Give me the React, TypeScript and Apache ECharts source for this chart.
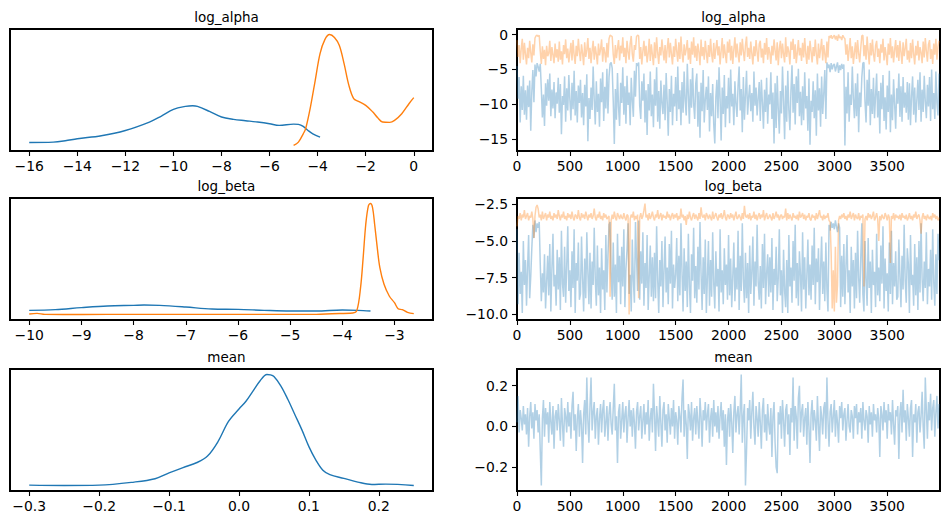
import { useEffect, useRef } from "react";
import * as echarts from "echarts";

const BLUE = "#1f77b4";
const ORANGE = "#ff7f0e";
const FONT = "DejaVu Sans";

// ---- posterior density curves: [value, density] ----
const logAlphaKde0 = [
  [-16, 0.036], [-15, 0.039], [-14.5, 0.051], [-14, 0.069], [-13, 0.096], [-12, 0.143],
  [-11, 0.218], [-10.5, 0.272], [-10, 0.331], [-9.5, 0.358], [-9.2, 0.364], [-9, 0.358],
  [-8.5, 0.313], [-8, 0.263], [-7.5, 0.242], [-7, 0.23], [-6.5, 0.218], [-6, 0.203],
  [-5.6, 0.188], [-5.0, 0.2], [-4.8, 0.197], [-4.6, 0.179], [-4.4, 0.143], [-4.2, 0.113],
  [-3.9, 0.084],
];
const logAlphaKde1 = [
  [-5, 0.009], [-4.8, 0.039], [-4.6, 0.113], [-4.5, 0.158], [-4.3, 0.352], [-4.1, 0.591],
  [-3.9, 0.83], [-3.7, 0.955], [-3.5, 1.0], [-3.3, 0.973], [-3.1, 0.904], [-2.9, 0.74],
  [-2.7, 0.546], [-2.5, 0.427], [-2.3, 0.403], [-2.0, 0.367], [-1.7, 0.307], [-1.5, 0.257],
  [-1.3, 0.218], [-1.0, 0.215], [-0.8, 0.233], [-0.5, 0.293], [-0.2, 0.382], [0, 0.436],
];
const logBetaKde0 = [
  [-10, 0.037], [-9.5, 0.043], [-9, 0.061], [-8.5, 0.076], [-8, 0.082], [-7.8, 0.085],
  [-7.5, 0.082], [-7, 0.067], [-6.5, 0.049], [-6, 0.046], [-5.5, 0.037], [-5, 0.031],
  [-4.5, 0.031], [-4, 0.04], [-3.7, 0.037], [-3.46, 0.031],
];
const logBetaKde1 = [
  [-10, 0.004], [-9.85, 0.01], [-9.7, 0.001], [-9, 0.0], [-8, 0.001], [-7, 0.001],
  [-6, 0.001], [-5, 0.001], [-4.5, 0.001], [-4.2, 0.007], [-3.8, 0.013], [-3.72, 0.037],
  [-3.65, 0.241], [-3.6, 0.511], [-3.55, 0.811], [-3.5, 0.976], [-3.46, 0.997], [-3.42, 0.961],
  [-3.38, 0.811], [-3.33, 0.601], [-3.28, 0.421], [-3.2, 0.271], [-3.1, 0.166], [-3.0, 0.106],
  [-2.93, 0.052], [-2.85, 0.043], [-2.75, 0.019], [-2.63, 0.007],
];
const meanKde0 = [
  [-0.3, 0.013], [-0.25, 0.01], [-0.2, 0.013], [-0.15, 0.04], [-0.12, 0.07], [-0.1, 0.121],
  [-0.08, 0.169], [-0.06, 0.214], [-0.045, 0.271], [-0.03, 0.4], [-0.015, 0.579], [0.0, 0.69],
  [0.01, 0.759], [0.02, 0.849], [0.03, 0.939], [0.04, 0.996], [0.045, 0.993], [0.05, 0.978],
  [0.06, 0.894], [0.07, 0.774], [0.08, 0.639], [0.09, 0.504], [0.1, 0.355], [0.11, 0.235],
  [0.12, 0.145], [0.13, 0.106], [0.15, 0.073], [0.17, 0.04], [0.19, 0.019], [0.21, 0.022],
  [0.25, 0.01],
];

// ---- sampled draws, every 10th iteration (one row = 100 iterations) ----
const THIN = 10;
const logAlphaTrace0 = [
  -4.5, -9.2, -6.1, -12.6, -7.4, -10.8, -5.9, -11.5, -8.0, -12.2,
  -7.3, -10.4, -6.6, -13.8, -8.2, -5.1, -9.7, -4.3, -6.0, -4.1,
  -4.6, -5.3, -4.2, -7.8, -11.9, -8.6, -13.1, -7.0, -10.2, -6.4,
  -9.5, -5.6, -11.7, -7.9, -10.6, -6.8, -12.0, -8.3, -9.9, -6.2,
  -11.2, -7.1, -14.3, -8.8, -10.1, -6.0, -12.5, -7.7, -10.9, -5.8,
  -9.4, -12.3, -6.9, -10.7, -5.2, -11.6, -8.1, -12.6, -7.3, -9.8,
  -6.5, -11.9, -8.4, -13.0, -7.2, -10.3, -5.7, -15.3, -9.1, -12.1,
  -7.6, -10.8, -4.6, -9.3, -12.9, -6.7, -11.1, -8.5, -13.2, -6.3,
  -9.7, -5.4, -12.4, -7.5, -10.6, -4.9, -11.3, -6.1, -4.2, -4.0,
  -4.8, -9.6, -15.7, -7.8, -12.2, -5.5, -10.4, -13.1, -6.9, -9.8,
  -4.7, -11.5, -7.4, -12.8, -5.9, -10.1, -8.3, -13.0, -6.2, -9.4,
  -11.8, -5.2, -8.9, -4.1, -4.5, -4.0, -10.2, -12.1, -6.7, -9.5,
  -5.6, -12.6, -8.0, -14.4, -7.1, -10.9, -5.3, -11.7, -8.6, -13.3,
  -6.4, -10.2, -4.7, -12.5, -8.1, -13.5, -6.6, -9.8, -11.4, -7.2,
  -12.3, -5.5, -9.6, -14.5, -7.8, -11.1, -5.9, -13.0, -8.5, -10.3,
  -6.1, -12.4, -4.6, -10.7, -8.0, -13.0, -6.8, -11.2, -5.3, -9.5,
  -11.6, -4.2, -8.7, -12.8, -6.4, -10.5, -4.8, -9.9, -12.1, -7.0,
  -5.6, -13.2, -8.2, -14.8, -6.9, -11.0, -5.1, -12.6, -9.3, -7.5,
  -10.8, -6.0, -13.9, -8.4, -11.7, -7.1, -12.9, -15.6, -9.0, -6.5,
  -12.0, -4.7, -9.2, -15.2, -7.6, -11.4, -5.8, -13.3, -8.8, -10.6,
  -6.2, -12.7, -5.0, -10.3, -8.5, -13.0, -6.7, -9.9, -11.8, -7.3,
  -4.6, -10.9, -7.8, -14.0, -6.1, -12.2, -8.7, -5.2, -11.5, -9.0,
  -7.2, -11.0, -8.4, -12.5, -5.3, -10.2, -7.6, -11.6, -9.1, -6.8,
  -12.4, -6.5, -9.7, -13.5, -7.9, -11.1, -6.2, -12.8, -8.6, -10.0,
  -5.4, -12.1, -8.3, -15.6, -7.0, -13.4, -5.9, -10.7, -14.2, -8.1,
  -11.3, -4.6, -9.5, -15.0, -7.3, -12.5, -5.2, -10.8, -13.7, -8.0,
  -4.4, -11.2, -7.1, -12.9, -6.0, -9.8, -4.9, -11.7, -8.2, -13.0,
  -7.4, -12.3, -5.4, -10.6, -8.8, -13.8, -6.3, -15.8, -9.5, -11.1,
  -6.7, -12.0, -8.0, -14.5, -5.6, -10.9, -7.7, -13.2, -6.0, -11.4,
  -8.5, -5.1, -12.1, -4.0, -4.8, -4.3, -5.4, -4.1, -5.0, -4.4,
  -4.2, -5.3, -4.6, -4.0, -5.5, -4.4, -5.1, -4.2, -4.9, -4.3,
  -15.9, -7.5, -11.3, -5.4, -12.5, -8.6, -10.1, -4.6, -9.2, -12.0,
  -7.0, -11.7, -5.6, -14.0, -8.3, -10.4, -6.1, -4.1, -4.0, -9.6,
  -12.6, -6.5, -10.2, -5.0, -13.0, -7.8, -11.4, -6.2, -12.0, -8.7,
  -5.6, -11.9, -8.1, -14.2, -6.9, -10.7, -5.8, -12.4, -9.0, -13.6,
  -7.3, -11.1, -5.2, -14.0, -8.6, -12.3, -6.4, -10.0, -13.5, -7.7,
  -9.9, -5.6, -11.8, -7.4, -12.5, -6.1, -10.5, -8.3, -11.2, -6.8,
  -12.2, -7.0, -13.0, -8.8, -6.0, -11.5, -7.6, -12.6, -9.4, -6.5,
  -10.8, -5.4, -12.5, -7.9, -11.1, -5.9, -9.6, -12.0, -7.2, -10.3,
  -6.1, -12.4, -5.0, -10.7, -8.4, -12.1, -5.3, -9.8, -11.6, -5.6,
];
const logAlphaTrace1 = [
  -0.8, -3.2, -1.5, -4.1, -2.0, -0.6, -3.6, -1.2, -2.8, -4.3,
  -1.9, -3.4, -0.9, -2.6, -4.0, -1.4, -3.0, -0.5, -0.2, -0.1,
  -0.3, -0.1, -2.4, -4.2, -1.7, -3.5, -2.2, -4.4, -1.6, -3.1,
  -2.7, -0.9, -3.8, -1.8, -2.9, -4.1, -1.3, -3.3, -2.1, -3.9,
  -1.0, -3.6, -2.4, -4.3, -1.5, -2.8, -0.7, -3.4, -2.0, -4.0,
  -2.6, -1.2, -3.7, -0.8, -2.9, -4.2, -1.6, -3.1, -0.6, -2.5,
  -3.8, -1.4, -2.7, -4.4, -1.1, -3.2, -2.2, -0.5, -3.5, -1.9,
  -4.1, -2.3, -0.9, -3.6, -1.7, -2.8, -4.3, -1.3, -3.0, -2.1,
  -0.7, -3.9, -1.8, -2.6, -4.0, -1.2, -3.3, -0.6, -0.1, -0.2,
  -0.3, -2.9, -4.2, -1.5, -3.4, -2.0, -0.8, -3.7, -1.6, -2.7,
  -0.4, -3.2, -1.9, -4.1, -0.9, -2.5, -3.6, -1.3, -0.2, -2.8,
  -3.9, -1.5, -2.2, -0.3, -0.1, -0.2, -3.5, -1.8, -4.3, -2.4,
  -0.9, -3.1, -1.6, -4.0, -2.7, -0.6, -3.8, -1.4, -2.9, -4.4,
  -1.1, -3.4, -0.4, -2.6, -4.2, -1.8, -3.0, -0.7, -2.3, -3.7,
  -1.5, -4.1, -2.0, -0.5, -3.3, -1.2, -2.8, -4.3, -1.7, -3.2,
  -0.6, -2.4, -3.9, -1.1, -3.5, -0.3, -2.7, -4.0, -1.4, -3.0,
  -2.1, -0.8, -3.6, -1.9, -4.2, -1.0, -2.9, -0.4, -3.3, -1.6,
  -3.8, -1.3, -2.5, -4.4, -0.7, -3.1, -1.8, -3.6, -0.9, -2.6,
  -4.1, -1.5, -3.2, -0.6, -2.8, -4.0, -1.2, -3.5, -2.0, -0.8,
  -3.0, -1.7, -4.3, -2.3, -0.5, -3.4, -1.4, -2.9, -4.1, -1.0,
  -2.6, -0.7, -3.7, -1.6, -4.2, -2.1, -0.4, -3.3, -1.3, -2.8,
  -4.0, -1.1, -3.0, -0.6, -2.4, -3.8, -1.5, -0.3, -3.2, -1.9,
  -3.5, -1.0, -2.7, -4.3, -1.7, -3.1, -0.8, -2.5, -3.9, -1.4,
  -0.9, -3.3, -2.0, -4.1, -1.2, -2.9, -0.5, -3.6, -1.8, -2.6,
  -4.2, -1.6, -3.0, -0.7, -2.3, -3.7, -1.1, -4.4, -2.0, -0.9,
  -3.4, -1.3, -2.8, -4.0, -0.4, -3.2, -1.7, -2.5, -4.3, -1.0,
  -2.2, -0.6, -3.5, -1.4, -4.1, -2.6, -0.8, -3.0, -1.9, -3.8,
  -1.2, -3.3, -0.5, -2.7, -4.2, -1.6, -3.6, -0.9, -2.4, -4.0,
  -1.8, -3.1, -0.7, -2.9, -4.3, -1.3, -3.4, -2.1, -0.6, -3.7,
  -1.5, -2.8, -4.1, -1.0, -3.3, -0.2, -0.5, -0.1, -0.6, -0.3,
  -0.1, -0.7, -0.2, -0.9, 0.0, -0.5, -0.3, -0.8, -0.1, -0.4,
  -0.6, -2.9, -1.4, -3.8, -2.2, -0.5, -3.4, -1.7, -4.2, -2.6,
  -1.1, -3.5, -0.8, -2.7, -4.0, -1.9, -0.2, -0.1, -3.1, -1.5,
  -3.6, -0.3, -2.4, -4.3, -1.2, -3.0, -0.7, -2.8, -3.9, -1.6,
  -0.9, -3.2, -2.0, -4.1, -1.4, -2.6, -0.6, -3.7, -1.8, -3.0,
  -4.4, -1.3, -2.9, -0.5, -3.4, -1.7, -4.0, -2.2, -0.8, -3.3,
  -1.5, -3.8, -0.9, -2.5, -4.2, -1.1, -3.1, -2.0, -0.6, -3.6,
  -2.3, -4.0, -1.2, -3.4, -0.7, -2.8, -4.3, -1.6, -3.0, -0.9,
  -3.7, -1.8, -2.6, -4.1, -1.0, -3.3, -0.5, -2.4, -3.9, -1.4,
  -0.8, -3.5, -2.1, -4.2, -1.3, -2.9, -0.6, -3.6, -1.7, -0.9,
];
const logBetaTrace0 = [
  -4.2, -9.3, -5.8, -8.6, -7.1, -9.9, -5.0, -8.0, -6.3, -9.4,
  -6.8, -4.6, -8.9, -7.4, -5.5, -3.9, -4.8, -3.6, -4.4, -3.8,
  -4.1, -3.7, -6.6, -9.1, -7.2, -8.5, -5.9, -9.6, -7.8, -6.0,
  -8.7, -5.2, -9.8, -6.9, -4.5, -8.1, -7.3, -9.4, -5.6, -8.3,
  -6.1, -9.7, -4.3, -7.9, -8.8, -5.4, -9.2, -6.7, -4.0, -8.4,
  -7.0, -9.5, -5.7, -8.2, -4.2, -9.9, -6.5, -7.7, -5.1, -9.0,
  -8.6, -4.7, -7.5, -9.8, -6.2, -8.9, -4.4, -7.1, -9.3, -5.8,
  -9.6, -6.4, -8.0, -4.1, -7.6, -9.4, -5.3, -8.7, -6.8, -9.9,
  -5.5, -8.3, -7.0, -9.7, -4.6, -8.5, -5.9, -3.9, -3.7, -7.2,
  -9.0, -5.1, -8.8, -6.6, -9.9, -4.5, -7.8, -6.0, -9.3, -5.4,
  -8.1, -4.2, -9.5, -6.9, -5.6, -3.8, -8.6, -7.3, -9.8, -4.9,
  -7.7, -9.2, -3.7, -6.2, -8.4, -3.6, -9.0, -5.7, -7.9, -4.4,
  -9.4, -6.5, -8.2, -4.6, -9.7, -7.4, -5.3, -8.8, -6.1, -9.1,
  -5.8, -8.9, -4.0, -7.6, -9.9, -6.3, -8.1, -5.0, -9.5, -7.0,
  -4.7, -8.5, -6.8, -9.3, -5.2, -7.9, -4.3, -9.6, -6.6, -8.2,
  -7.3, -4.8, -9.1, -6.0, -8.7, -3.8, -7.1, -9.8, -5.5, -8.4,
  -6.4, -9.5, -4.5, -8.0, -9.9, -5.9, -7.7, -4.1, -8.9, -6.7,
  -9.2, -5.4, -8.3, -3.7, -7.2, -9.7, -6.1, -8.6, -4.9, -9.9,
  -7.5, -5.0, -9.4, -6.3, -8.8, -4.4, -7.9, -9.6, -5.7, -8.1,
  -6.9, -9.8, -4.2, -8.5, -7.0, -9.3, -5.5, -8.0, -6.6, -9.0,
  -4.6, -8.7, -6.2, -9.5, -7.4, -5.1, -9.1, -6.8, -8.3, -4.3,
  -9.7, -6.0, -8.4, -3.8, -7.6, -9.2, -5.8, -8.9, -6.5, -9.9,
  -5.3, -8.6, -7.1, -4.7, -9.4, -6.4, -8.1, -3.9, -7.8, -9.0,
  -6.7, -9.6, -5.2, -8.2, -4.5, -9.3, -7.2, -5.9, -8.8, -6.1,
  -8.5, -4.8, -9.7, -6.9, -8.0, -5.4, -9.1, -7.5, -4.2, -8.7,
  -7.0, -9.9, -5.6, -8.4, -9.5, -6.3, -9.9, -4.6, -8.1, -6.8,
  -9.2, -5.0, -7.7, -3.9, -8.9, -6.5, -9.4, -5.7, -7.3, -9.8,
  -4.4, -8.3, -6.1, -9.6, -7.4, -4.9, -8.7, -6.6, -9.0, -5.3,
  -8.0, -4.1, -9.3, -6.2, -7.8, -5.5, -9.7, -6.9, -4.7, -8.6,
  -6.4, -9.1, -5.1, -8.3, -9.8, -3.9, -4.3, -3.7, -4.1, -3.8,
  -4.2, -3.6, -4.0, -4.4, -3.8, -4.1, -9.5, -6.0, -8.8, -5.2,
  -9.3, -6.7, -4.6, -8.5, -7.0, -9.9, -5.4, -8.1, -6.3, -9.6,
  -5.8, -8.9, -4.3, -7.5, -9.2, -6.1, -3.8, -8.6, -9.8, -5.0,
  -7.7, -9.4, -4.8, -8.2, -6.4, -9.9, -5.6, -8.0, -7.1, -9.5,
  -4.5, -8.7, -6.8, -9.1, -5.3, -7.9, -4.0, -9.6, -6.2, -8.4,
  -7.2, -9.8, -5.1, -8.6, -4.3, -9.3, -6.5, -8.1, -5.7, -9.0,
  -8.8, -4.9, -7.4, -9.5, -6.0, -8.3, -3.9, -7.7, -9.2, -5.5,
  -6.6, -9.9, -4.6, -8.0, -7.3, -9.4, -5.2, -8.7, -6.1, -9.7,
  -5.0, -8.5, -3.8, -7.6, -9.1, -6.4, -8.2, -4.4, -9.3, -6.9,
  -8.1, -5.6, -9.0, -4.2, -7.8, -9.4, -5.9, -8.6, -4.5, -6.3,
];
const logBetaTrace1 = [
  -4.0, -3.3, -3.5, -3.1, -3.6, -3.2, -3.4, -2.9, -3.5, -3.3,
  -3.1, -3.6, -3.3, -3.4, -3.0, -3.5, -4.8, -3.3, -2.7, -2.55,
  -2.8, -3.4, -3.2, -3.6, -3.0, -3.5, -3.3, -3.1, -3.6, -3.2,
  -3.4, -3.0, -3.5, -3.3, -3.6, -3.1, -3.4, -3.2, -3.5, -2.9,
  -3.3, -3.6, -3.2, -3.4, -3.0, -3.5, -3.3, -3.6, -3.1, -3.4,
  -3.2, -3.5, -3.0, -3.4, -3.6, -3.2, -3.3, -3.5, -2.9, -3.4,
  -3.6, -3.1, -3.4, -3.2, -3.5, -3.0, -3.3, -3.6, -3.2, -3.4,
  -3.1, -3.5, -3.3, -2.8, -3.4, -3.6, -3.2, -3.4, -3.0, -3.5,
  -3.3, -3.6, -3.1, -3.4, -3.2, -3.5, -3.4, -3.3, -8.8, -3.6,
  -3.2, -3.5, -3.0, -3.4, -3.6, -3.1, -3.3, -3.5, -3.2, -3.4,
  -3.5, -3.1, -3.4, -3.6, -3.2, -3.3, -10.0, -3.5, -3.2, -3.4,
  -3.0, -3.6, -3.3, -3.5, -3.2, -8.9, -3.4, -3.1, -3.5, -3.3,
  -2.9, -2.45, -3.4, -3.2, -3.6, -3.1, -3.5, -3.3, -3.0, -3.4,
  -3.6, -3.2, -3.4, -2.9, -3.5, -3.3, -3.1, -3.6, -3.2, -3.4,
  -3.3, -3.5, -3.0, -3.4, -3.2, -3.6, -3.3, -3.1, -3.5, -3.2,
  -3.4, -3.1, -3.6, -3.3, -3.5, -2.8, -3.4, -3.2, -3.6, -3.3,
  -3.9, -3.2, -3.5, -3.0, -3.4, -3.6, -3.3, -3.1, -3.5, -3.2,
  -3.4, -3.6, -3.1, -3.5, -2.7, -3.3, -3.4, -3.2, -3.6, -3.1,
  -3.3, -3.5, -3.2, -3.4, -3.6, -3.0, -3.5, -3.3, -3.1, -3.4,
  -3.6, -3.2, -3.4, -3.1, -3.5, -3.3, -2.9, -3.4, -3.6, -3.2,
  -3.3, -3.5, -3.1, -3.4, -3.2, -3.6, -3.3, -3.0, -3.5, -3.4,
  -3.2, -3.4, -3.6, -3.1, -3.5, -2.6, -3.3, -3.4, -3.2, -3.5,
  -3.1, -3.6, -3.3, -3.4, -3.0, -3.5, -3.2, -3.6, -3.3, -3.1,
  -3.5, -3.2, -3.4, -2.9, -3.6, -3.3, -3.1, -3.5, -3.4, -3.2,
  -3.4, -3.6, -3.1, -3.5, -3.3, -3.0, -3.4, -3.2, -3.6, -3.3,
  -3.2, -3.5, -3.3, -3.4, -2.8, -3.6, -3.1, -3.5, -3.2, -3.4,
  -3.6, -3.1, -3.4, -3.3, -3.5, -3.2, -3.6, -3.0, -3.4, -3.3,
  -3.1, -3.5, -3.2, -3.6, -3.3, -3.4, -3.1, -3.5, -3.6, -3.2,
  -3.4, -3.3, -3.6, -3.1, -3.5, -3.2, -2.9, -3.4, -3.3, -3.6,
  -3.2, -3.5, -3.3, -3.4, -3.1, -3.6, -3.7, -5.8, -9.6, -7.0,
  -9.8, -5.4, -9.2, -8.0, -3.6, -3.3, -3.5, -3.2, -3.4, -3.1,
  -3.5, -3.3, -3.6, -3.2, -3.4, -3.0, -3.5, -3.3, -3.1, -3.6,
  -3.2, -3.4, -3.5, -3.1, -3.6, -3.3, -3.4, -3.2, -8.1, -3.5,
  -3.3, -3.6, -3.1, -3.4, -3.2, -3.5, -3.3, -3.0, -3.6, -3.4,
  -3.1, -3.5, -5.0, -3.3, -3.6, -3.2, -3.4, -3.5, -3.1, -3.3,
  -3.6, -3.2, -3.4, -6.5, -3.3, -3.5, -3.1, -3.6, -3.2, -3.4,
  -3.3, -3.5, -3.2, -3.6, -3.1, -3.4, -3.3, -3.5, -3.2, -3.6,
  -3.4, -3.1, -3.5, -3.3, -3.6, -3.2, -3.4, -3.0, -3.5, -3.3,
  -3.2, -3.6, -4.5, -3.4, -3.1, -3.5, -3.3, -3.6, -3.2, -3.4,
  -3.5, -3.3, -3.6, -3.1, -3.4, -3.2, -3.5, -3.3, -3.6, -3.4,
];
const meanTrace0 = [
  0.02, 0.15, -0.03, 0.08, 0.04, -0.02, 0.1, 0.01, 0.06, -0.04,
  0.09, -0.1, 0.05, 0.12, -0.01, 0.07, -0.06, 0.11, 0.03, 0.08,
  -0.03, 0.06, -0.12, -0.29, 0.04, 0.13, -0.05, 0.09, 0.01, 0.07,
  -0.08, 0.12, 0.02, -0.04, 0.1, -0.11, 0.05, 0.08, -0.02, 0.11,
  0.03, -0.07, 0.14, 0.01, -0.1, 0.09, 0.05, -0.03, 0.12, 0.0,
  0.07, -0.06, 0.1, 0.17, -0.02, 0.06, -0.12, 0.04, 0.11, -0.05,
  0.08, 0.01, -0.18, 0.06, 0.13, -0.04, 0.24, 0.03, -0.08, 0.1,
  0.24, -0.02, 0.07, 0.12, -0.06, 0.05, 0.09, -0.09, 0.04, 0.11,
  -0.03, 0.08, 0.13, -0.05, 0.02, 0.1, -0.07, 0.06, 0.12, 0.01,
  -0.04, 0.09, 0.21, -0.02, 0.05, -0.18, 0.07, 0.11, -0.06, 0.03,
  0.12, -0.03, 0.06, 0.1, -0.08, 0.04, 0.13, 0.0, 0.08, -0.05,
  0.09, 0.02, -0.11, 0.07, 0.12, -0.02, 0.05, 0.1, -0.06, 0.03,
  0.11, -0.04, 0.07, 0.01, 0.13, -0.07, 0.04, 0.09, -0.03, 0.21,
  0.06, -0.12, 0.1, 0.03, -0.05, 0.15, 0.02, -0.1, 0.08, 0.12,
  -0.02, 0.06, -0.08, 0.11, 0.04, -0.04, 0.09, 0.0, 0.13, -0.06,
  0.07, 0.03, -0.09, 0.1, 0.05, -0.03, 0.14, 0.23, -0.05, 0.08,
  0.01, -0.16, 0.11, 0.06, -0.02, 0.12, -0.07, 0.04, 0.09, -0.04,
  0.1, 0.02, -0.06, 0.14, 0.05, -0.1, 0.08, 0.03, 0.12, -0.02,
  0.06, 0.11, -0.08, 0.04, 0.09, -0.05, 0.13, 0.0, 0.07, -0.03,
  0.1, -0.06, 0.05, 0.12, -0.02, 0.08, -0.1, 0.06, -0.19, 0.03,
  0.09, -0.05, 0.11, 0.02, -0.13, 0.07, 0.15, -0.03, 0.06, 0.1,
  -0.04, 0.08, 0.255, -0.08, 0.05, 0.11, -0.29, -0.12, 0.09, 0.03,
  0.13, -0.06, 0.07, 0.17, 0.0, -0.09, 0.1, 0.04, -0.05, 0.12,
  0.02, -0.11, 0.08, 0.14, -0.03, 0.06, -0.07, 0.11, 0.01, -0.04,
  0.09, -0.15, 0.05, 0.12, -0.08, -0.2, -0.23, 0.07, 0.01, 0.1,
  -0.06, 0.13, 0.03, -0.1, 0.08, 0.11, -0.04, 0.06, -0.14, 0.09,
  0.02, 0.24, -0.07, 0.1, 0.05, -0.11, 0.14, 0.2, -0.03, 0.07,
  0.11, -0.05, 0.04, 0.09, -0.09, 0.12, 0.0, -0.18, 0.06, 0.13,
  -0.02, 0.08, 0.03, -0.07, 0.15, 0.01, -0.12, 0.1, 0.05, -0.04,
  0.09, 0.12, -0.06, 0.24, 0.03, -0.1, 0.07, 0.11, -0.03, 0.05,
  0.13, -0.05, 0.08, 0.02, -0.08, 0.1, 0.04, 0.12, -0.02, 0.06,
  0.09, -0.07, 0.03, 0.11, 0.0, -0.03, 0.08, 0.05, -0.06, 0.1,
  0.04, 0.11, -0.04, 0.07, 0.02, 0.09, -0.06, 0.12, 0.03, -0.02,
  0.08, 0.05, -0.08, 0.1, 0.01, 0.07, -0.05, 0.11, 0.03, 0.06,
  -0.03, 0.09, 0.04, -0.15, 0.1, 0.06, -0.02, 0.12, 0.02, 0.08,
  -0.06, 0.11, 0.03, 0.07, -0.04, 0.13, 0.01, -0.09, 0.08, 0.05,
  0.1, -0.16, 0.06, 0.12, -0.03, 0.18, 0.02, 0.08, -0.07, 0.11,
  0.04, -0.05, 0.09, 0.13, -0.15, 0.06, 0.02, 0.11, -0.08, 0.07,
  0.1, -0.03, 0.05, 0.17, 0.0, -0.11, 0.24, 0.08, -0.06, 0.12,
  0.03, 0.16, -0.02, 0.09, 0.13, -0.05, 0.07, 0.15, -0.01, 0.11,
];

// ---- tick positions ----
const logAlphaKdeTicks = [-16, -14, -12, -10, -8, -6, -4, -2, 0];
const logBetaKdeTicks = [-10, -9, -8, -7, -6, -5, -4, -3];
const meanKdeTicks = [-0.3, -0.2, -0.1, 0.0, 0.1, 0.2];
const drawTicks = [0, 500, 1000, 1500, 2000, 2500, 3000, 3500];
const logAlphaTraceTicks = [-15, -10, -5, 0];
const logBetaTraceTicks = [-10, -7.5, -5, -2.5];
const meanTraceTicks = [-0.2, 0.0, 0.2];
const DRAW_MAX = 3999;

const titles = ["log_alpha", "log_alpha", "log_beta", "log_beta", "mean", "mean"];

function fmt(v: number, dec: number) {
  const s = Math.abs(v).toFixed(dec);
  return v < 0 && Number(s) !== 0 ? "\u2212" + s : s;
}

function padded(values: number[]) {
  const lo = Math.min(...values);
  const hi = Math.max(...values);
  const p = (hi - lo) * 0.05;
  return { min: lo - p, max: hi + p };
}

const toDraws = (vals: number[]) => vals.map((v, i) => [i * THIN, v]);

export default function App() {
  const ref = useRef<HTMLDivElement>(null);

  useEffect(() => {
    if (!ref.current) return;
    const chart = echarts.init(ref.current, undefined, { renderer: "svg" });

    const LEFT = 10;
    const RIGHT = 517;
    const W = 423;
    const H = 122;
    const tops = [29, 198, 369];

    const frame = { show: true, borderColor: "#000", borderWidth: 2, backgroundColor: "transparent" };
    const grids: any[] = [];
    tops.forEach((t) => {
      grids.push({ left: LEFT, top: t, width: W, height: H, ...frame });
      grids.push({ left: RIGHT, top: t, width: W, height: H, ...frame });
    });

    const labelStyle = (dec: number, margin: number) => ({
      fontSize: 13.9,
      fontFamily: FONT,
      color: "#000",
      margin,
      formatter: (v: number) => fmt(v, dec),
    });

    const tickStyle = { length: 5, lineStyle: { color: "#000", width: 1.1 } };
    const noLine = { show: false, onZero: false };

    const kdeX = (curves: number[][][], ticks: number[], dec: number, gi: number) => {
      const r = padded(curves.flat().map((p) => p[0]));
      return {
        type: "value", gridIndex: gi, min: r.min, max: r.max,
        axisLine: noLine, splitLine: { show: false },
        axisTick: { ...tickStyle, customValues: ticks },
        axisLabel: { ...labelStyle(dec, 8), customValues: ticks },
      };
    };
    const kdeY = (curves: number[][][], gi: number) => {
      const r = padded(curves.flat().map((p) => p[1]));
      return {
        type: "value", gridIndex: gi, min: r.min, max: r.max,
        axisLine: noLine, splitLine: { show: false },
        axisTick: { show: false }, axisLabel: { show: false },
      };
    };
    const drawX = (gi: number) => ({
      type: "value", gridIndex: gi, min: 0, max: DRAW_MAX,
      axisLine: noLine, splitLine: { show: false },
      axisTick: { ...tickStyle, customValues: drawTicks },
      axisLabel: { ...labelStyle(0, 8), customValues: drawTicks },
    });
    const drawY = (chains: number[][], ticks: number[], dec: number, gi: number) => {
      const r = padded(chains.flat());
      return {
        type: "value", gridIndex: gi, min: r.min, max: r.max,
        axisLine: noLine, splitLine: { show: false },
        axisTick: { ...tickStyle, customValues: ticks },
        axisLabel: { ...labelStyle(dec, 9), customValues: ticks },
      };
    };

    const xAxis = [
      kdeX([logAlphaKde0, logAlphaKde1], logAlphaKdeTicks, 0, 0),
      drawX(1),
      kdeX([logBetaKde0, logBetaKde1], logBetaKdeTicks, 0, 2),
      drawX(3),
      kdeX([meanKde0], meanKdeTicks, 1, 4),
      drawX(5),
    ];
    const yAxis = [
      kdeY([logAlphaKde0, logAlphaKde1], 0),
      drawY([logAlphaTrace0, logAlphaTrace1], logAlphaTraceTicks, 0, 1),
      kdeY([logBetaKde0, logBetaKde1], 2),
      drawY([logBetaTrace0, logBetaTrace1], logBetaTraceTicks, 1, 3),
      kdeY([meanKde0], 4),
      drawY([meanTrace0], meanTraceTicks, 1, 5),
    ];

    const kdeSeries = (data: number[][], color: string, gi: number) => ({
      type: "line", xAxisIndex: gi, yAxisIndex: gi, data,
      showSymbol: false, smooth: 0.35,
      lineStyle: { color, width: 1.4 }, silent: true,
    });
    const traceSeries = (vals: number[], color: string, gi: number) => ({
      type: "line", xAxisIndex: gi, yAxisIndex: gi, data: toDraws(vals),
      showSymbol: false,
      lineStyle: { color, width: 1.5, opacity: 0.35 }, silent: true,
    });

    const series = [
      kdeSeries(logAlphaKde0, BLUE, 0),
      kdeSeries(logAlphaKde1, ORANGE, 0),
      traceSeries(logAlphaTrace0, BLUE, 1),
      traceSeries(logAlphaTrace1, ORANGE, 1),
      kdeSeries(logBetaKde0, BLUE, 2),
      kdeSeries(logBetaKde1, ORANGE, 2),
      traceSeries(logBetaTrace0, BLUE, 3),
      traceSeries(logBetaTrace1, ORANGE, 3),
      kdeSeries(meanKde0, BLUE, 4),
      traceSeries(meanTrace0, BLUE, 5),
    ];

    const titleTops = [5, 174, 345];
    const title = titles.map((text, i) => ({
      text,
      left: (i % 2 === 0 ? LEFT : RIGHT) + W / 2,
      top: titleTops[Math.floor(i / 2)],
      textAlign: "center",
      textStyle: { fontSize: 13.5, fontWeight: "normal", fontFamily: FONT, color: "#000" },
    }));

    chart.setOption({
      animation: false,
      backgroundColor: "#fff",
      title,
      grid: grids,
      xAxis,
      yAxis,
      series,
    });

    return () => chart.dispose();
  }, []);

  return (
    <div
      ref={ref}
      style={{ position: "fixed", left: 0, top: 0, width: 950, height: 525, background: "#fff" }}
    />
  );
}
